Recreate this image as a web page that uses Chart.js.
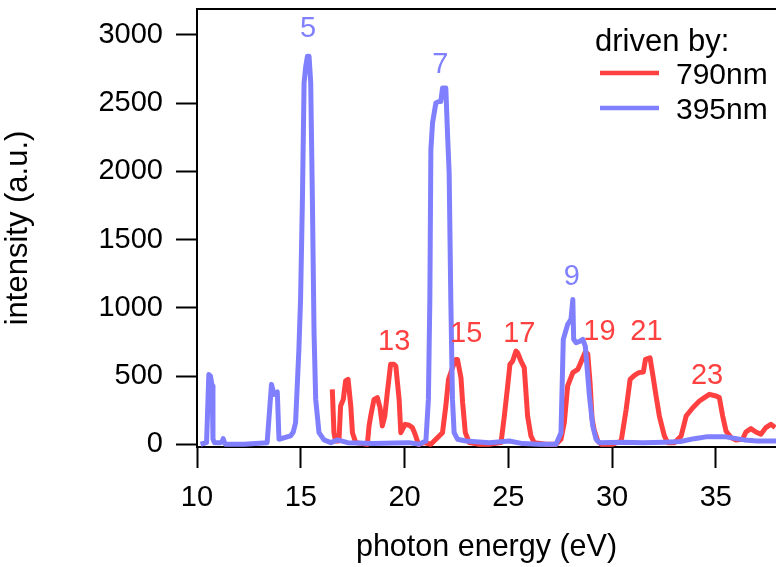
<!DOCTYPE html>
<html>
<head>
<meta charset="utf-8">
<title>harmonic spectra</title>
<script src="https://cdn.jsdelivr.net/npm/chart.js@4.4.1/dist/chart.umd.min.js"></script>
<style>
  html, body { margin: 0; padding: 0; background: #fff; }
  canvas { display: block; }
</style>
</head>
<body>
<canvas id="spectrumChart" width="776" height="567"></canvas>
<script>
// 790nm driver: photon energy (eV) / intensity (a.u.)
const energy790 = [16.52, 16.60, 16.68, 16.84, 16.92, 17.05, 17.16, 17.28, 17.41, 17.49, 17.65, 18.21, 18.29, 18.37,
  18.53, 18.69, 18.82, 18.93, 19.05, 19.17, 19.33, 19.49, 19.58, 19.74, 19.82, 20.03, 20.22, 20.38, 20.51, 20.67,
  20.95, 21.27, 21.51, 21.83, 21.99, 22.12, 22.31, 22.47, 22.55, 22.72, 22.80, 22.93, 23.12, 23.60, 24.08, 24.65,
  24.81, 24.97, 25.08, 25.21, 25.37, 25.45, 25.61, 25.77, 25.93, 26.09, 26.25, 26.82, 27.30, 27.54, 27.70, 27.86,
  28.11, 28.35, 28.46, 28.59, 28.72, 28.83, 28.94, 29.04, 29.15, 29.31, 29.47, 30.04, 30.44, 30.68, 30.87, 31.08,
  31.29, 31.51, 31.61, 31.83, 31.96, 32.12, 32.28, 32.52, 32.68, 33.01, 33.33, 33.57, 33.89, 34.21, 34.45, 34.69,
  35.01, 35.17, 35.33, 35.49, 35.73, 35.97, 36.29, 36.45, 36.69, 36.93, 37.17, 37.41, 37.65, 37.86];
const intensity790 = [403, 85, 24, 24, 281, 329, 464, 476, 281, 85, 12, 0, 134, 207,
  329, 342, 268, 134, 207, 378, 586, 586, 573, 329, 85, 146, 139, 122, 73, 0,
  12, 0, 37, 85, 281, 476, 561, 622, 622, 488, 305, 85, 12, 0, 0, 12,
  207, 427, 586, 610, 683, 671, 610, 561, 207, 61, 12, 0, 0, 37, 159, 427,
  525, 549, 586, 634, 680, 660, 451, 183, 98, 24, 0, 0, 24, 256, 476, 505,
  525, 530, 622, 634, 512, 354, 207, 61, 12, 12, 61, 207, 268, 317, 342, 366,
  354, 342, 207, 98, 49, 32, 37, 90, 115, 90, 73, 122, 146, 122];

// 395nm driver
const energy395 = [10.17, 10.46, 10.57, 10.65, 10.73, 10.77, 10.84, 11.13, 11.22, 11.26, 11.33, 11.37, 12.26, 13.38,
  13.59, 13.71, 13.87, 13.95, 14.51, 14.64, 14.75, 14.91, 14.99, 15.08, 15.16, 15.24, 15.32, 15.40, 15.48, 15.56,
  15.64, 15.72, 15.88, 16.12, 16.45, 16.77, 17.26, 18.50, 19.50, 20.22, 20.70, 21.03, 21.15, 21.22, 21.27, 21.35,
  21.43, 21.51, 21.67, 21.75, 21.83, 21.99, 22.07, 22.15, 22.23, 22.31, 22.39, 22.55, 22.96, 24.08, 25.05, 25.69,
  26.49, 27.30, 27.54, 27.65, 27.86, 28.02, 28.11, 28.15, 28.27, 28.46, 28.59, 28.71, 28.91, 29.07, 29.23, 29.39,
  30.50, 31.50, 32.50, 33.30, 33.96, 34.60, 35.41, 36.37, 37.00, 38.10];
const intensity395 = [0, 12, 512, 500, 427, 37, 12, 12, 20, 41, 10, 0, 0, 12,
  439, 366, 383, 37, 61, 90, 159, 695, 1061, 1793, 2648, 2770, 2843, 2843, 2648, 1793,
  817, 329, 85, 32, 12, 32, 12, 5, 10, 12, 0, 24, 329, 1061, 2160, 2355,
  2428, 2501, 2513, 2513, 2611, 2611, 2282, 1989, 1061, 329, 85, 37, 24, 12, 24, 5,
  0, 0, 85, 769, 878, 915, 1061, 769, 744, 756, 769, 720, 354, 134, 37, 12,
  15, 12, 15, 20, 41, 56, 56, 32, 24, 24];

// harmonic orders written above the peaks (0 = 790nm, 1 = 395nm)
const harmonicOrders = ['5', '7', '9', '13', '15', '17', '19', '21', '23'];
const harmonicSeries = [1, 1, 1, 0, 0, 0, 0, 0, 0];
const harmonicEnergy = [15.35, 21.72, 28.06, 19.50, 22.97, 25.53, 29.39, 31.66, 34.58];
const harmonicIntensity = [3045, 2782, 1223, 747, 806, 806, 820, 820, 498];

const xTicks = [10, 15, 20, 25, 30, 35];
const yTicks = [0, 500, 1000, 1500, 2000, 2500, 3000];

const RED = '#ff4040';
const BLUE = '#8080ff';
const FONT = '"Liberation Sans", Arial, sans-serif';

function toPoints(xs, ys) {
  return xs.map(function(x, i) { return { x: x, y: ys[i] }; });
}

// box line along the top of the plot
const topFrame = {
  id: 'topFrame',
  afterDraw: function(chart) {
    const a = chart.chartArea, ctx = chart.ctx;
    ctx.save();
    ctx.strokeStyle = '#000';
    ctx.lineWidth = 2;
    ctx.beginPath();
    ctx.moveTo(a.left - 1, a.top);
    ctx.lineTo(a.right, a.top);
    ctx.stroke();
    ctx.restore();
  }
};

// order numbers over the peaks
const harmonicLabels = {
  id: 'harmonicLabels',
  afterDatasetsDraw: function(chart) {
    const ctx = chart.ctx, xs = chart.scales.x, ys = chart.scales.y;
    ctx.save();
    ctx.font = '29px ' + FONT;
    ctx.textAlign = 'center';
    ctx.textBaseline = 'middle';
    harmonicOrders.forEach(function(txt, i) {
      ctx.fillStyle = harmonicSeries[i] === 0 ? RED : BLUE;
      ctx.fillText(txt, xs.getPixelForValue(harmonicEnergy[i]), ys.getPixelForValue(harmonicIntensity[i]));
    });
    ctx.restore();
  }
};

// legend in the upper right corner
const cornerLegend = {
  id: 'cornerLegend',
  afterDraw: function(chart) {
    const ctx = chart.ctx;
    ctx.save();
    ctx.fillStyle = '#000';
    ctx.textBaseline = 'middle';
    ctx.textAlign = 'left';
    ctx.font = '31px ' + FONT;
    ctx.fillText('driven by:', 595, 42);
    ctx.font = '30px ' + FONT;
    chart.data.datasets.forEach(function(ds, i) {
      const y = 73 + i * 35;
      ctx.strokeStyle = ds.borderColor;
      ctx.lineWidth = 4.5;
      ctx.beginPath();
      ctx.moveTo(600, y);
      ctx.lineTo(659, y);
      ctx.stroke();
      ctx.fillText(ds.label, 676, y + 3);
    });
    ctx.restore();
  }
};

function plainTick(v) { return String(v); }

new Chart(document.getElementById('spectrumChart'), {
  type: 'line',
  data: {
    datasets: [{
      label: '790nm',
      data: toPoints(energy790, intensity790),
      borderColor: RED,
      borderWidth: 5,
      order: 1
    }, {
      label: '395nm',
      data: toPoints(energy395, intensity395),
      borderColor: BLUE,
      borderWidth: 5,
      order: 0
    }]
  },
  options: {
    responsive: false,
    devicePixelRatio: 1,
    animation: false,
    layout: { padding: { top: 9, right: 0, bottom: 0, left: 0 } },
    elements: {
      point: { radius: 0 },
      line: { tension: 0, borderJoinStyle: 'round', fill: false }
    },
    plugins: {
      legend: { display: false },
      tooltip: { enabled: false }
    },
    scales: {
      x: {
        type: 'linear',
        min: 10,
        max: 37.9,
        afterBuildTicks: function(scale) {
          scale.ticks = xTicks.map(function(v) { return { value: v }; });
        },
        afterFit: function(scale) {
          scale.height = 120;
          scale.paddingLeft = 0;
          scale.paddingRight = 0;
        },
        border: { display: true, color: '#000', width: 2 },
        grid: { drawOnChartArea: false, drawTicks: true, tickLength: 21, tickWidth: 2, tickColor: '#000' },
        ticks: { color: '#000', padding: 13, maxRotation: 0, callback: plainTick, font: { family: FONT, size: 29 } },
        title: { display: true, text: 'photon energy (eV)', color: '#000', padding: { top: 0, bottom: 1 }, font: { family: FONT, size: 30.5 } }
      },
      y: {
        min: -20,
        max: 3190,
        afterBuildTicks: function(scale) {
          scale.ticks = yTicks.map(function(v) { return { value: v }; });
        },
        afterFit: function(scale) {
          scale.width = 197;
          scale.paddingTop = 0;
          scale.paddingBottom = 0;
        },
        border: { display: true, color: '#000', width: 2 },
        grid: { drawOnChartArea: false, drawTicks: true, tickLength: 21, tickWidth: 2, tickColor: '#000' },
        ticks: { color: '#000', padding: 13, callback: plainTick, font: { family: FONT, size: 29 } },
        title: { display: true, text: 'intensity (a.u.)', color: '#000', padding: { top: 0, bottom: 0 }, font: { family: FONT, size: 31 } }
      }
    }
  },
  plugins: [topFrame, harmonicLabels, cornerLegend]
});
</script>
</body>
</html>
